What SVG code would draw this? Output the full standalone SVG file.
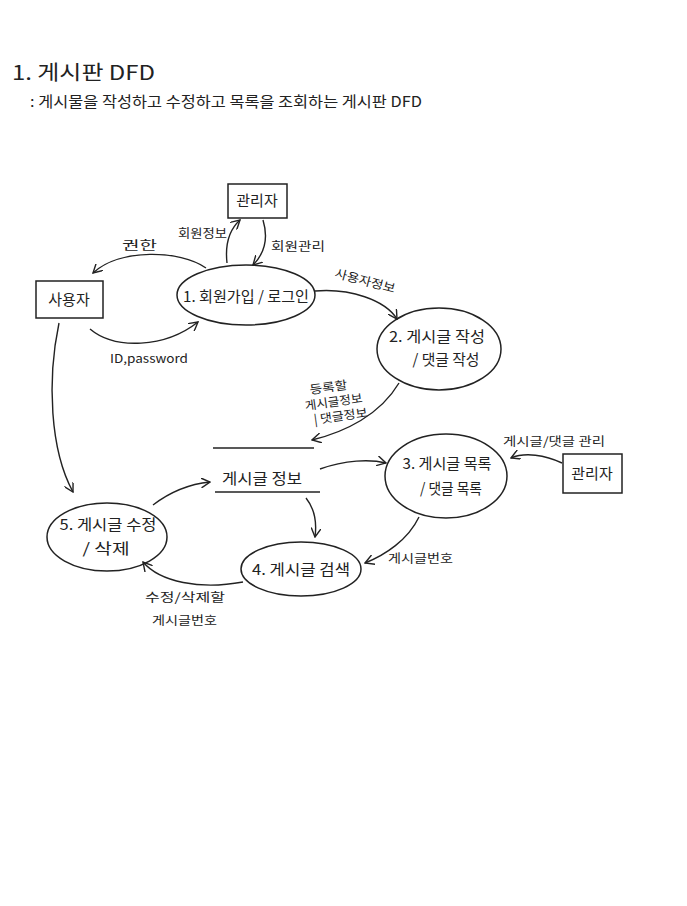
<svg xmlns="http://www.w3.org/2000/svg" width="687" height="906" viewBox="0 0 687 906">
<style>
text{font-family:"Noto Sans CJK KR","Noto Sans",sans-serif;fill:#222;}
.shape{fill:none;stroke:#222;stroke-width:1.5;}
.flow{fill:none;stroke:#222;stroke-width:1.4;marker-end:url(#arr);}
.t{font-size:15px;text-anchor:middle;}
.l{font-size:12px;}
</style>
<defs>
<marker id="arr" viewBox="0 0 10 10" refX="9" refY="5" markerWidth="10" markerHeight="10" markerUnits="userSpaceOnUse" orient="auto">
<path d="M0,0 L9,5 L0,10" fill="none" stroke="#222" stroke-width="1.4"/>
</marker>
</defs>
<rect width="687" height="906" fill="#fff"/>
<text x="12" y="80" font-size="20" textLength="143" lengthAdjust="spacingAndGlyphs">1. 게시판 DFD</text>
<text x="30" y="107" font-size="15" textLength="392" lengthAdjust="spacingAndGlyphs">: 게시물을 작성하고 수정하고 목록을 조회하는 게시판 DFD</text>

<g id="admin-top"><rect class="shape" x="228" y="184" width="59" height="34"/><text class="t" x="257" y="206">관리자</text></g>
<g id="user"><rect class="shape" x="36" y="281" width="67" height="37"/><text class="t" x="69" y="305" font-size="16">사용자</text></g>
<g id="admin-right"><rect class="shape" x="563" y="454" width="59" height="39"/><text class="t" x="592" y="479">관리자</text></g>
<g id="p1"><ellipse class="shape" cx="246" cy="295" rx="69" ry="30"/><text class="t" x="246" y="302" textLength="126" lengthAdjust="spacingAndGlyphs">1. 회원가입 / 로그인</text></g>
<g id="p2"><ellipse class="shape" cx="439" cy="349" rx="62" ry="41"/><text class="t" x="437" y="342" textLength="96" lengthAdjust="spacingAndGlyphs">2. 게시글 작성</text><text class="t" x="446" y="365" textLength="67" lengthAdjust="spacingAndGlyphs">/ 댓글 작성</text></g>
<g id="p3"><ellipse class="shape" cx="446" cy="476" rx="61" ry="42"/><text class="t" x="447" y="469" textLength="89" lengthAdjust="spacingAndGlyphs">3. 게시글 목록</text><text class="t" x="451" y="494" textLength="62" lengthAdjust="spacingAndGlyphs">/ 댓글 목록</text></g>
<g id="p4"><ellipse class="shape" cx="301" cy="569" rx="60" ry="27"/><text class="t" x="301" y="575" textLength="98" lengthAdjust="spacingAndGlyphs">4. 게시글 검색</text></g>
<g id="p5"><ellipse class="shape" cx="107" cy="537" rx="60" ry="34"/><text class="t" x="108" y="530" textLength="97" lengthAdjust="spacingAndGlyphs">5. 게시글 수정</text><text class="t" x="106" y="554" textLength="47" lengthAdjust="spacingAndGlyphs">/ 삭제</text></g>
<g id="store">
<line class="shape" x1="213" y1="448" x2="314" y2="448"/>
<line class="shape" x1="215" y1="492" x2="320" y2="492"/>
<text class="t" x="262" y="484" textLength="80" lengthAdjust="spacingAndGlyphs">게시글 정보</text>
</g>

<g id="connectors">
<path class="flow" d="M206,268 C180,250 120,248 93,273"/>
<path class="flow" d="M227,263 C225,245 229,230 240,220"/>
<path class="flow" d="M263,220 C269,240 263,255 253,265"/>
<path class="flow" d="M90,329 C115,350 165,348 198,322"/>
<path class="flow" d="M315,291 C350,288 385,300 397,319"/>
<path class="flow" d="M399,383 C380,415 345,432 312,440"/>
<path class="flow" d="M320,469 C345,460 370,459 386,463"/>
<path class="flow" d="M562,463 C545,455 525,452 511,458"/>
<path class="flow" d="M419,517 C408,540 385,555 365,563"/>
<path class="flow" d="M306,498 C314,508 317,522 315,537"/>
<path class="flow" d="M243,582 C200,590 160,582 143,562"/>
<path class="flow" d="M153,505 C170,492 190,484 210,482"/>
<path class="flow" d="M59,323 C47,380 50,450 73,492"/>
</g>

<g id="labels">
<text class="l" x="122" y="250" font-size="14" textLength="35" lengthAdjust="spacingAndGlyphs">권한</text>
<text class="l" x="178" y="238" font-size="11" textLength="49" lengthAdjust="spacingAndGlyphs">회원정보</text>
<text class="l" x="271" y="251" font-size="12" textLength="54" lengthAdjust="spacingAndGlyphs">회원관리</text>
<text class="l" x="110" y="363" font-size="13" textLength="78" lengthAdjust="spacingAndGlyphs">ID,password</text>
<text class="l" x="333" y="285" font-size="13" textLength="62" lengthAdjust="spacingAndGlyphs" transform="rotate(15 364 285)">사용자정보</text>
<g transform="rotate(-8 335 405)">
<text class="l" x="312" y="391" font-size="11" textLength="38" lengthAdjust="spacingAndGlyphs">등록할</text>
<text class="l" x="305" y="406" font-size="11" textLength="58" lengthAdjust="spacingAndGlyphs">게시글정보</text>
<text class="l" x="312" y="421" font-size="11" textLength="54" lengthAdjust="spacingAndGlyphs">| 댓글정보</text>
</g>
<text class="l" x="503" y="446" font-size="13" textLength="102" lengthAdjust="spacingAndGlyphs">게시글/댓글 관리</text>
<text class="l" x="388" y="563" font-size="13" textLength="65" lengthAdjust="spacingAndGlyphs">게시글번호</text>
<text class="l" x="145" y="602" font-size="13" textLength="80" lengthAdjust="spacingAndGlyphs">수정/삭제할</text>
<text class="l" x="152" y="625" font-size="13" textLength="65" lengthAdjust="spacingAndGlyphs">게시글번호</text>
</g>
</svg>
